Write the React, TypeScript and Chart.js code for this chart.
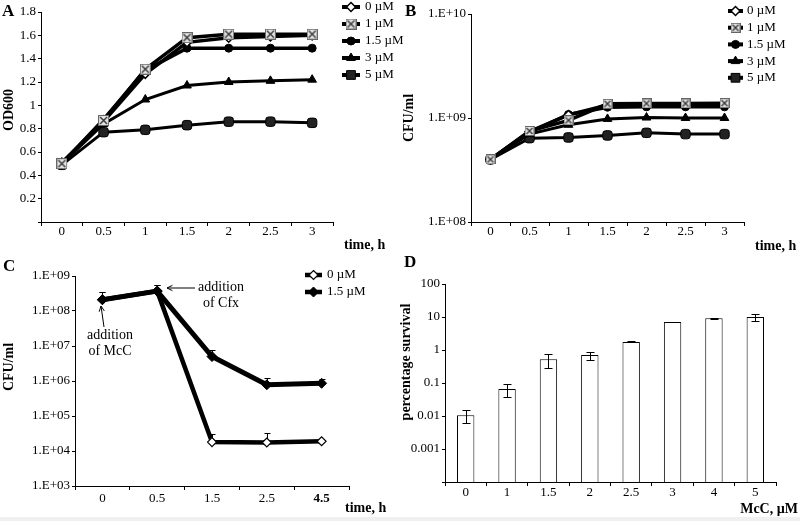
import React, { useEffect, useRef } from 'react';
import { Chart, registerables } from 'chart.js';
Chart.register(...registerables);

const FONT = "'Liberation Serif', 'Times New Roman', Times, serif";

// ---------- Panel A : OD600 ----------
const timeA = ['0', '0.5', '1', '1.5', '2', '2.5', '3'];
const concLabels = ['0 µM', '1 µM', '1.5 µM', '3 µM', '5 µM'];
const odA0 = [0.51, 0.86, 1.27, 1.54, 1.58, 1.59, 1.60];
const odA1 = [0.50, 0.87, 1.31, 1.58, 1.61, 1.61, 1.61];
const odA15 = [0.50, 0.88, 1.30, 1.49, 1.49, 1.49, 1.49];
const odA3 = [0.50, 0.84, 1.05, 1.17, 1.20, 1.21, 1.22];
const odA5 = [0.49, 0.77, 0.79, 0.83, 0.86, 0.86, 0.85];

// ---------- Panel B : CFU/ml ----------
const timeB = ['0', '0.5', '1', '1.5', '2', '2.5', '3'];
const cfuB0 = [4.0e8, 7.4e8, 1.07e9, 1.33e9, 1.35e9, 1.35e9, 1.36e9];
const cfuB1 = [4.0e8, 7.5e8, 0.95e9, 1.37e9, 1.38e9, 1.38e9, 1.39e9];
const cfuB15 = [4.0e8, 7.3e8, 1.08e9, 1.27e9, 1.28e9, 1.28e9, 1.28e9];
const cfuB3 = [4.0e8, 7.0e8, 8.6e8, 9.8e8, 1.01e9, 1.0e9, 1.0e9];
const cfuB5 = [4.0e8, 6.4e8, 6.5e8, 6.8e8, 7.2e8, 7.0e8, 7.0e8];
const ticksB = [1e8, 1e9, 1e10];

// ---------- Panel C : CFU/ml with Cfx ----------
const timeC = ['0', '0.5', '1.5', '2.5', '4.5'];
const concC = ['0 µM', '1.5 µM'];
const cfuC0 = [2.1e8, 3.7e8, 1.8e4, 1.75e4, 1.9e4];
const cfuC0Err = [1.3e8, 2.0e8, 1.3e4, 1.6e4, 0];
const cfuC15 = [2.1e8, 3.7e8, 5.0e6, 7.8e5, 8.6e5];
const cfuC15Err = [1.3e8, 2.0e8, 2.5e6, 4.0e5, 2.5e5];
const ticksC = [1e3, 1e4, 1e5, 1e6, 1e7, 1e8, 1e9];

// ---------- Panel D : percentage survival ----------
const mccLabels = ['0', '1', '1.5', '2', '2.5', '3', '4', '5'];
const survival = [0.0105, 0.066, 0.52, 0.70, 1.75, 7.0, 9.2, 10.0];
const survivalErr = [0.0045, 0.028, 0.24, 0.2, 0.06, 0.15, 0.4, 2.4];
const ticksD = [1e-4, 1e-3, 1e-2, 1e-1, 1, 10, 100];
const tickLabelsD = ['', '0.001', '0.01', '0.1', '1', '10', '100'];

function expLabel(v: number) {
  const e = Math.round(Math.log10(v));
  return '1.E+' + String(e).padStart(2, '0');
}

function makeXBox(size: number) {
  const c = document.createElement('canvas');
  c.width = size; c.height = size;
  const g = c.getContext('2d')!;
  g.fillStyle = '#e4e4e4';
  g.fillRect(0.5, 0.5, size - 1, size - 1);
  g.strokeStyle = '#666'; g.lineWidth = 1;
  g.strokeRect(0.5, 0.5, size - 1, size - 1);
  g.strokeStyle = '#333'; g.lineWidth = 1.4;
  g.beginPath();
  g.moveTo(2, 2); g.lineTo(size - 2, size - 2);
  g.moveTo(size - 2, 2); g.lineTo(2, size - 2);
  g.stroke();
  return c;
}

function drawMarker(ctx: CanvasRenderingContext2D, style: any, x: number, y: number, r: number, fill: string, stroke: string, bw: number) {
  ctx.save();
  if (style instanceof HTMLCanvasElement) {
    ctx.drawImage(style, x - style.width / 2, y - style.height / 2);
    ctx.restore();
    return;
  }
  ctx.fillStyle = fill; ctx.strokeStyle = stroke; ctx.lineWidth = bw;
  ctx.beginPath();
  if (style === 'circle') {
    ctx.arc(x, y, r, 0, Math.PI * 2);
  } else if (style === 'rectRot') {
    ctx.moveTo(x, y - r); ctx.lineTo(x + r, y); ctx.lineTo(x, y + r); ctx.lineTo(x - r, y);
  } else if (style === 'triangle') {
    const s = r * 3 / Math.sqrt(3);
    const h = s * Math.sqrt(3) / 2;
    ctx.moveTo(x, y - h * 2 / 3); ctx.lineTo(x + s / 2, y + h / 3); ctx.lineTo(x - s / 2, y + h / 3);
  } else {
    const s = r * Math.SQRT2 / 2 + 0.5;
    ctx.rect(x - s, y - s, 2 * s, 2 * s);
  }
  ctx.closePath();
  ctx.fill();
  if (bw > 0) ctx.stroke();
  ctx.restore();
}

function makePlugin(cfg: any) {
  const drawErr = (chart: any, phase: string) => {
    const ctx = chart.ctx;
    (cfg.errors || []).forEach((e: any) => {
      if (e.phase !== phase) return;
      const meta = chart.getDatasetMeta(e.dataset);
      const ys = chart.scales.y;
      const data = chart.data.datasets[e.dataset].data;
      ctx.save();
      ctx.strokeStyle = '#000';
      ctx.lineWidth = 1;
      meta.data.forEach((el: any, i: number) => {
        const v = data[i];
        const er = e.errs[i];
        if (!er) return;
        const x = Math.round(el.x) + 0.5;
        const yTop = Math.round(ys.getPixelForValue(v + er)) + 0.5;
        const yBot = e.upperOnly ? ys.getPixelForValue(v) : Math.round(ys.getPixelForValue(Math.max(v - er, ys.min))) + 0.5;
        ctx.beginPath();
        ctx.moveTo(x, yTop); ctx.lineTo(x, yBot);
        ctx.moveTo(x - e.cap, yTop); ctx.lineTo(x + e.cap, yTop);
        if (!e.upperOnly) { ctx.moveTo(x - e.cap, yBot); ctx.lineTo(x + e.cap, yBot); }
        ctx.stroke();
      });
      ctx.restore();
    });
  };
  return {
    id: 'annot',
    beforeDatasetsDraw(chart: any) { drawErr(chart, 'before'); },
    afterDatasetsDraw(chart: any) { drawErr(chart, 'after'); },
    afterDraw(chart: any) {
      const ctx: CanvasRenderingContext2D = chart.ctx;
      if (cfg.legend) {
        const L = cfg.legend;
        chart.data.datasets.forEach((ds: any, i: number) => {
          const y = L.y + i * L.dy;
          ctx.save();
          ctx.strokeStyle = '#000';
          ctx.lineWidth = L.lineWidth;
          ctx.beginPath();
          ctx.moveTo(L.x, y); ctx.lineTo(L.x + L.len, y);
          ctx.stroke();
          drawMarker(ctx, ds.pointStyle, L.x + L.len / 2, y, ds.pointRadius, ds.pointBackgroundColor, ds.pointBorderColor, ds.pointBorderWidth);
          ctx.fillStyle = '#000';
          ctx.font = `13px ${FONT}`;
          ctx.textBaseline = 'middle';
          ctx.textAlign = 'left';
          ctx.fillText(ds.label, L.x + L.len + L.gap, y);
          ctx.restore();
        });
      }
      (cfg.texts || []).forEach((t: any) => {
        ctx.save();
        ctx.fillStyle = '#000';
        ctx.font = t.font;
        ctx.textBaseline = 'middle';
        ctx.textAlign = t.align || 'left';
        ctx.translate(t.x, t.y);
        if (t.rot) ctx.rotate(t.rot);
        ctx.fillText(t.text, 0, 0);
        ctx.restore();
      });
      (cfg.arrows || []).forEach((a: any) => {
        ctx.save();
        ctx.strokeStyle = '#000';
        ctx.lineWidth = 1;
        ctx.beginPath();
        ctx.moveTo(a.x1, a.y1); ctx.lineTo(a.x2, a.y2);
        const ang = Math.atan2(a.y2 - a.y1, a.x2 - a.x1);
        const hl = 6;
        ctx.moveTo(a.x2 - hl * Math.cos(ang - 0.45), a.y2 - hl * Math.sin(ang - 0.45));
        ctx.lineTo(a.x2, a.y2);
        ctx.lineTo(a.x2 - hl * Math.cos(ang + 0.45), a.y2 - hl * Math.sin(ang + 0.45));
        ctx.stroke();
        ctx.restore();
      });
    },
  };
}

const tickFont = { family: FONT, size: 13 };
const titleFont = `bold 14px ${FONT}`;
const letterFont = `bold 17px ${FONT}`;

function xScale(h: number, pad: number, fontFn?: any) {
  return {
    type: 'category',
    offset: true,
    grid: { display: true, drawOnChartArea: false, offset: true, tickLength: 4, color: '#000', lineWidth: 1 },
    border: { display: true, color: '#000', width: 1 },
    ticks: { color: '#000', font: fontFn || tickFont, padding: pad, maxRotation: 0, autoSkip: false },
    afterFit: (s: any) => { s.height = h; },
  };
}

function yGrid() {
  return { display: true, drawOnChartArea: false, tickLength: 3, color: '#000', lineWidth: 1 };
}

function baseOptions(padding: any, scales: any) {
  return {
    responsive: false,
    animation: false,
    devicePixelRatio: 1,
    events: [],
    layout: { padding },
    plugins: { legend: { display: false }, tooltip: { enabled: false } },
    elements: { line: { tension: 0 } },
    scales,
  };
}

function lineDs(label: string, data: number[], style: any, r: number, bg: string, bw: number, lw: number, order: number) {
  return {
    label, data,
    borderColor: '#000', borderWidth: lw,
    pointStyle: style, pointRadius: r,
    pointBackgroundColor: bg, pointBorderColor: '#000', pointBorderWidth: bw,
    order, clip: false,
  };
}

function makeA(canvas: HTMLCanvasElement) {
  const xb = makeXBox(11);
  const datasets = [
    lineDs(concLabels[0], odA0, 'rectRot', 4.5, '#fff', 1.5, 3.5, 1),
    lineDs(concLabels[1], odA1, xb, 5.5, '#e4e4e4', 1, 3.5, 0),
    lineDs(concLabels[2], odA15, 'circle', 4, '#000', 1, 3.5, 2),
    lineDs(concLabels[3], odA3, 'triangle', 5, '#000', 1, 3, 3),
    lineDs(concLabels[4], odA5, 'rectRounded', 5.5, '#222', 1, 3, 4),
  ];
  const cfg = {
    legend: { x: 342, y: 7, dy: 17, len: 18, gap: 5, lineWidth: 4 },
    texts: [
      { text: 'A', x: 2, y: 12, font: letterFont },
      { text: 'OD600', x: 9, y: 110, font: titleFont, rot: -Math.PI / 2, align: 'center' },
      { text: 'time, h', x: 344, y: 245, font: titleFont },
    ],
  };
  return new Chart(canvas, {
    type: 'line',
    data: { labels: timeA, datasets },
    options: baseOptions({ top: 12, right: 87, left: 0, bottom: 0 }, {
      x: xScale(38, -2),
      y: {
        type: 'linear', min: 0, max: 1.8,
        ticks: { stepSize: 0.2, color: '#000', font: tickFont, padding: 2,
          callback: (v: number) => (Math.abs(v) < 1e-9 ? '' : String(Number(v.toFixed(1)))) },
        grid: yGrid(),
        border: { color: '#000', width: 1 },
        afterFit: (s: any) => { s.width = 41; },
      },
    }) as any,
    plugins: [makePlugin(cfg)],
  });
}

function makeB(canvas: HTMLCanvasElement) {
  const xb = makeXBox(10);
  const datasets = [
    lineDs(concLabels[0], cfuB0, 'rectRot', 4.5, '#fff', 1.5, 3.5, 1),
    lineDs(concLabels[1], cfuB1, xb, 5, '#e4e4e4', 1, 3.5, 0),
    lineDs(concLabels[2], cfuB15, 'circle', 4, '#000', 1, 3.5, 2),
    lineDs(concLabels[3], cfuB3, 'triangle', 5, '#000', 1, 3, 3),
    lineDs(concLabels[4], cfuB5, 'rectRounded', 5.5, '#222', 1, 3, 4),
  ];
  const cfg = {
    legend: { x: 328, y: 11, dy: 16.7, len: 15, gap: 4, lineWidth: 4 },
    texts: [
      { text: 'B', x: 5, y: 12, font: letterFont },
      { text: 'CFU/ml', x: 9, y: 118, font: titleFont, rot: -Math.PI / 2, align: 'center' },
      { text: 'time, h', x: 355, y: 246, font: titleFont },
    ],
  };
  return new Chart(canvas, {
    type: 'line',
    data: { labels: timeB, datasets },
    options: baseOptions({ top: 14, right: 56, left: 0, bottom: 0 }, {
      x: xScale(38, -2),
      y: {
        type: 'logarithmic', min: ticksB[0], max: ticksB[ticksB.length - 1],
        afterBuildTicks: (s: any) => { s.ticks = ticksB.map((v) => ({ value: v })); },
        ticks: { color: '#000', font: tickFont, padding: 2, callback: (v: number) => expLabel(v) },
        grid: yGrid(),
        border: { color: '#000', width: 1 },
        afterFit: (s: any) => { s.width = 71; },
      },
    }) as any,
    plugins: [makePlugin(cfg)],
  });
}

function makeC(canvas: HTMLCanvasElement) {
  const datasets = [
    lineDs(concC[0], cfuC0, 'rectRot', 4.5, '#fff', 1.2, 4.5, 1),
    lineDs(concC[1], cfuC15, 'rectRot', 5, '#000', 1, 5, 0),
  ];
  const cfg = {
    legend: { x: 305, y: 25, dy: 17, len: 17, gap: 5, lineWidth: 4.5 },
    errors: [
      { dataset: 0, errs: cfuC0Err, upperOnly: true, cap: 3, phase: 'before' },
      { dataset: 1, errs: cfuC15Err, upperOnly: true, cap: 3, phase: 'before' },
    ],
    texts: [
      { text: 'C', x: 3, y: 17, font: letterFont },
      { text: 'CFU/ml', x: 9, y: 117, font: titleFont, rot: -Math.PI / 2, align: 'center' },
      { text: 'time, h', x: 345, y: 258, font: titleFont },
      { text: 'addition', x: 110, y: 85, font: `14px ${FONT}`, align: 'center' },
      { text: 'of McC', x: 110, y: 101, font: `14px ${FONT}`, align: 'center' },
      { text: 'addition', x: 221, y: 37, font: `14px ${FONT}`, align: 'center' },
      { text: 'of Cfx', x: 221, y: 53, font: `14px ${FONT}`, align: 'center' },
    ],
    arrows: [
      { x1: 104, y1: 77, x2: 101, y2: 56 },
      { x1: 195, y1: 38, x2: 167, y2: 38 },
    ],
  };
  return new Chart(canvas, {
    type: 'line',
    data: { labels: timeC, datasets },
    options: baseOptions({ top: 26, right: 51, left: 0, bottom: 0 }, {
      x: xScale(31, 1, (c: any) => ({ family: FONT, size: 13, weight: c.index === timeC.length - 1 ? 'bold' : 'normal' })),
      y: {
        type: 'logarithmic', min: ticksC[0], max: ticksC[ticksC.length - 1],
        afterBuildTicks: (s: any) => { s.ticks = ticksC.map((v) => ({ value: v })); },
        ticks: { color: '#000', font: tickFont, padding: 2, callback: (v: number) => expLabel(v) },
        grid: yGrid(),
        border: { color: '#000', width: 1 },
        afterFit: (s: any) => { s.width = 75; },
      },
    }) as any,
    plugins: [makePlugin(cfg)],
  });
}

function makeD(canvas: HTMLCanvasElement) {
  const datasets = [{
    label: 'survival',
    data: survival,
    backgroundColor: '#fff',
    borderColor: '#000',
    borderWidth: 1,
    borderSkipped: 'bottom',
    barPercentage: 0.42,
    categoryPercentage: 1,
  }];
  const cfg = {
    errors: [{ dataset: 0, errs: survivalErr, upperOnly: false, cap: 4, phase: 'after' }],
    texts: [
      { text: 'D', x: 4, y: 13, font: letterFont },
      { text: 'percentage survival', x: 6, y: 112, font: titleFont, rot: -Math.PI / 2, align: 'center' },
      { text: 'McC, µM', x: 398, y: 259, font: titleFont, align: 'right' },
    ],
  };
  return new Chart(canvas, {
    type: 'bar',
    data: { labels: mccLabels, datasets },
    options: baseOptions({ top: 34, right: 24, left: 0, bottom: 0 }, {
      x: xScale(35, -1),
      y: {
        type: 'logarithmic', min: ticksD[0], max: ticksD[ticksD.length - 1],
        afterBuildTicks: (s: any) => { s.ticks = ticksD.map((v) => ({ value: v })); },
        ticks: { color: '#000', font: tickFont, padding: 2,
          callback: (_v: number, i: number) => tickLabelsD[i] },
        grid: yGrid(),
        border: { color: '#000', width: 1 },
        afterFit: (s: any) => { s.width = 45; },
      },
    }) as any,
    plugins: [makePlugin(cfg)],
  });
}

function Panel(props: { left: number; top: number; width: number; height: number; make: (c: HTMLCanvasElement) => Chart }) {
  const ref = useRef<HTMLCanvasElement | null>(null);
  useEffect(() => {
    const chart = props.make(ref.current!);
    return () => chart.destroy();
  }, []);
  return (
    <canvas
      ref={ref}
      width={props.width}
      height={props.height}
      style={{ position: 'absolute', left: props.left, top: props.top, width: props.width, height: props.height }}
    />
  );
}

export default function App() {
  return (
    <div style={{ position: 'absolute', left: 0, top: 0, width: 800, height: 521, background: '#fff', overflow: 'hidden' }}>
      <Panel left={0} top={0} width={420} height={260} make={makeA} />
      <Panel left={400} top={0} width={400} height={260} make={makeB} />
      <Panel left={0} top={250} width={400} height={267} make={makeC} />
      <Panel left={400} top={250} width={400} height={267} make={makeD} />
      <div style={{ position: 'absolute', left: 0, top: 517, width: 800, height: 4, background: '#f0f0f0' }} />
    </div>
  );
}
